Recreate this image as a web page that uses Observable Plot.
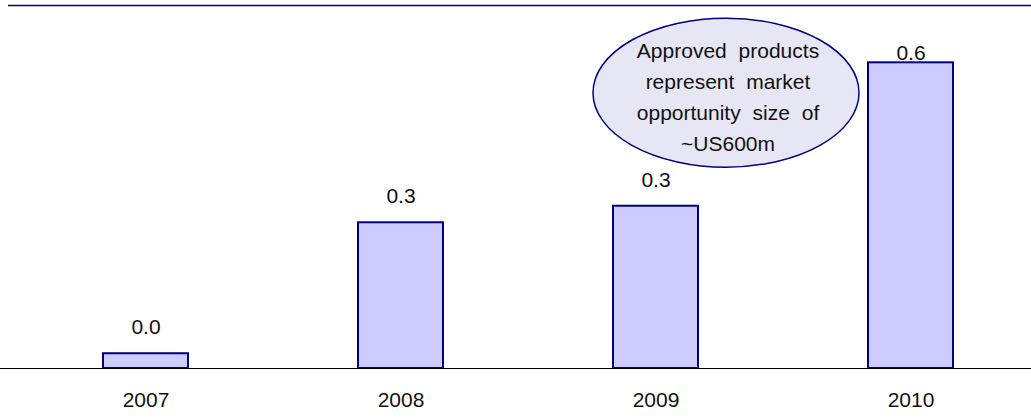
<!DOCTYPE html>
<html>
<head>
<meta charset="utf-8">
<script src="https://cdn.jsdelivr.net/npm/d3@7"></script>
<script src="https://cdn.jsdelivr.net/npm/@observablehq/plot@0.6"></script>
<style>
  html, body { margin: 0; padding: 0; background: #fff; }
  #chart svg { display: block; }
</style>
</head>
<body>
<div id="chart"></div>
<script>
// Approved product market opportunity (US$bn) by year
const years = ["2007", "2008", "2009", "2010"];
const values = [0.029, 0.286, 0.3185, 0.6];
const calloutLines = ["Approved products", "represent market", "opportunity size of", "~US600m"];

const data = years.map((year, i) => ({year, value: values[i]}));

const yTop = 0.7125;      // top of the plotting area
const labelGap = 0.038;   // value label sits just above its bar
const labelCap = 0.606;   // value labels never rise past this

const font = "'Liberation Sans', Arial, Helvetica, sans-serif";
const navy = "#000080";

// Callout ellipse with centred text, drawn in screen space
function callout() {
  const g = d3.create("svg:g");
  g.append("ellipse")
    .attr("cx", 726).attr("cy", 92.7)
    .attr("rx", 133).attr("ry", 74.5)
    .attr("fill", "#e6e6f5")
    .attr("stroke", navy)
    .attr("stroke-width", 1.5);
  const t = g.append("text")
    .attr("text-anchor", "middle")
    .attr("font-size", 21)
    .attr("font-family", font)
    .attr("fill", "#111")
    .style("word-spacing", "6px");
  calloutLines.forEach((line, i) => {
    t.append("tspan").attr("x", 728).attr("y", 57.5 + i * 31.2).text(line);
  });
  return g.node();
}

const chart = Plot.plot({
  width: 1031,
  height: 418,
  marginTop: 5,
  marginBottom: 50,
  marginLeft: 0,
  marginRight: 0,
  style: {fontFamily: font, fontSize: "21px", background: "#fff", color: "#111"},
  x: {type: "band", domain: years, range: [17.5, 1037.5], paddingInner: 0.667, paddingOuter: 0.333, axis: null},
  y: {domain: [0, yTop], axis: null},
  marks: [
    Plot.ruleY([yTop], {stroke: navy, strokeWidth: 1.5, insetLeft: 8}),
    Plot.barY(data, {x: "year", y: "value", fill: "#ccccff", stroke: navy, strokeWidth: 2}),
    Plot.ruleY([0], {stroke: "#000", strokeWidth: 1}),
    Plot.text(data, {
      x: "year",
      y: d => Math.min(d.value + labelGap, labelCap),
      text: d => d.value.toFixed(1),
      lineAnchor: "bottom",
      fontSize: 21,
      fill: "#111"
    }),
    Plot.text(years, {x: d => d, y: 0, text: d => d, lineAnchor: "bottom", dy: 38.7, fontSize: 21, fill: "#111"}),
    callout
  ]
});

document.getElementById("chart").append(chart);
</script>
</body>
</html>
